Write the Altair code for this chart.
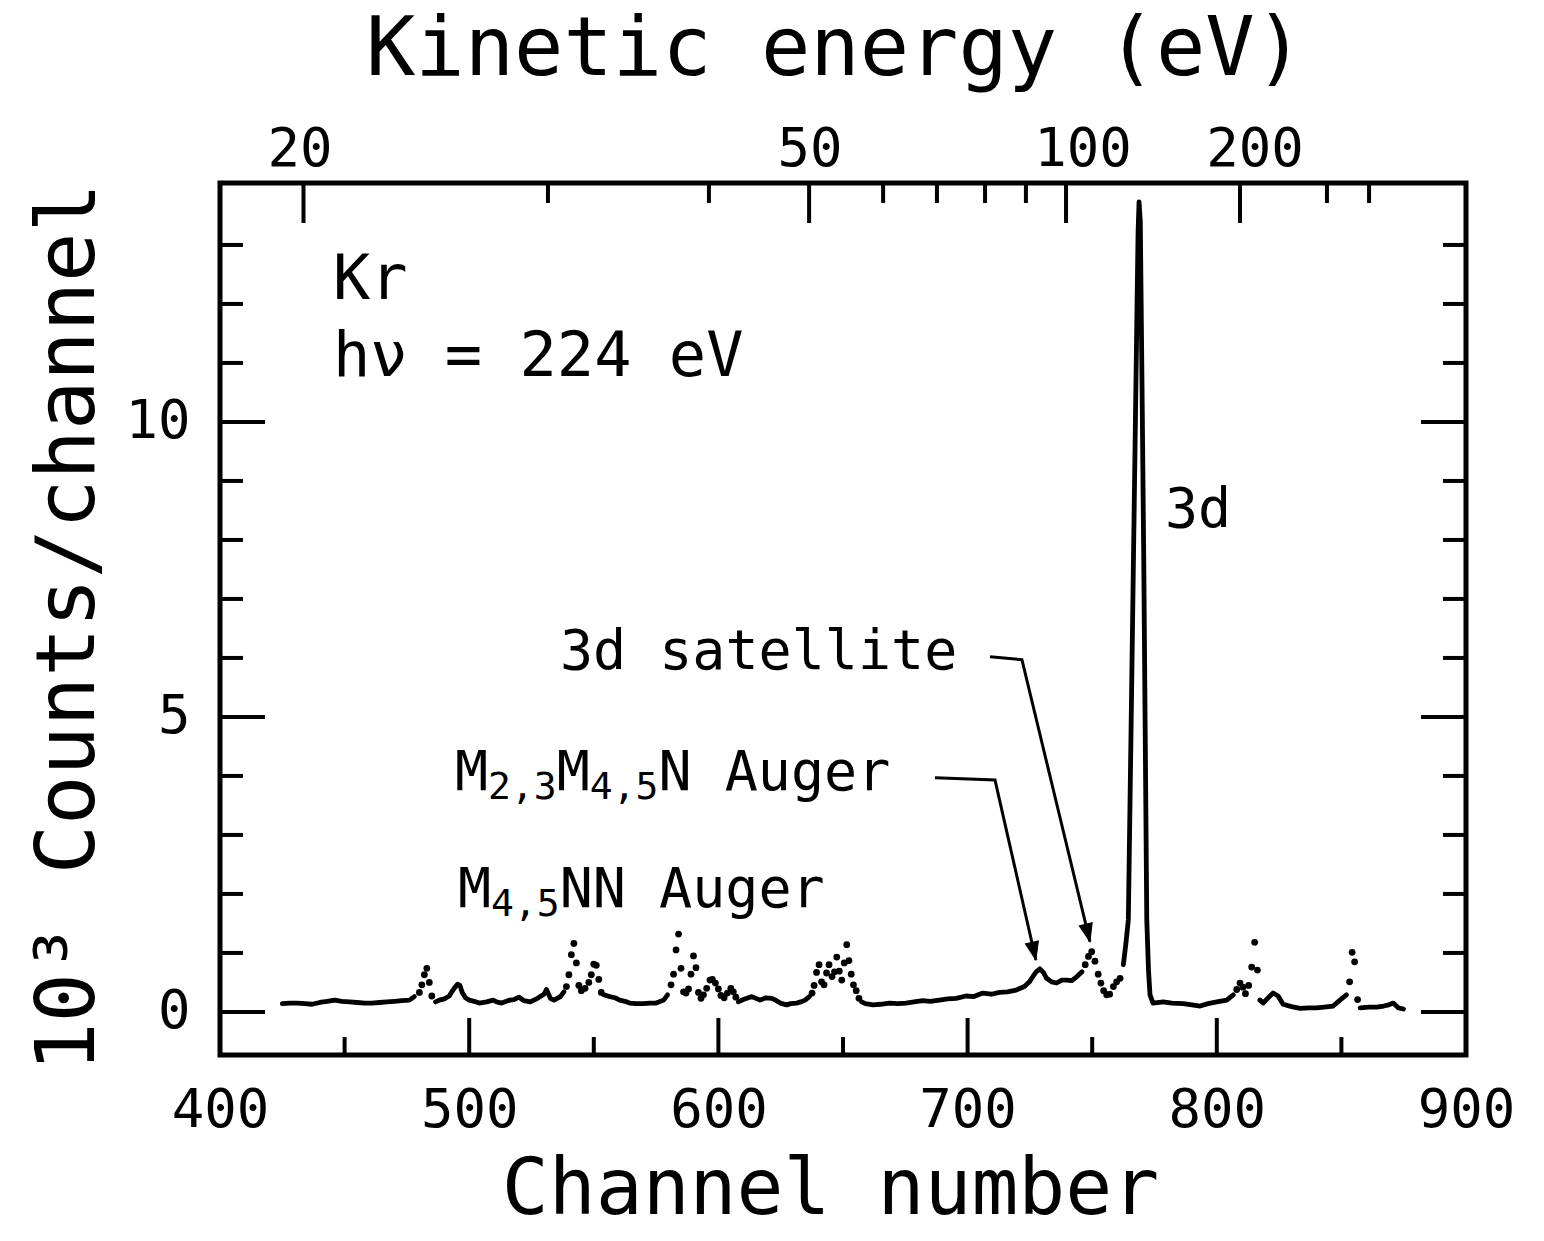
import math
import altair as alt
import pandas as pd

# ---------------- data ----------------
# continuous (solid) parts of the spectrum: channel, 10^3 counts/channel
trace_channel = [
    425, 428, 431, 434, 437, 440, 443, 446, 449, 452, 455, 458, 461, 464, 467, 470, 473, 476, 478,
    486.5, 488, 490, 492, 493, 494, 495.3, 496.3, 497.2, 498.5, 500, 502, 504, 507, 509.6, 511, 513,
    516.3, 518, 520, 522, 524.5, 527, 528.5, 530, 531, 532.6, 534, 536.6, 538,
    554, 556.4, 558.5, 560.4, 562.5, 564.4, 567, 569.8, 572.5, 575, 578, 579.6,
    608, 610, 613.4, 616.7, 619, 621.4, 623, 624.8, 627.4, 629, 631.4, 633, 634.8, 636.5,
    657.5, 659, 662, 665, 668.6, 672, 675.3, 678.5, 682, 685, 688.7, 692, 695.4, 699.4, 702.5, 706.1,
    709.5, 712.8, 716, 719.5, 722.8, 724.8, 726.2, 727.5, 729, 730.4, 731.7, 733.7, 735.7, 737.8,
    739.8, 741.8, 743.9, 745.9,
    762.5, 763.5, 764.5, 765.5, 766.5, 767.5, 768.4, 768.8, 769.3, 770.0, 770.7, 771.3, 771.9, 772.6,
    773.2, 774.4, 778.5, 782, 786.6, 790, 793.3, 796.5, 800, 804, 806.6,
    817.3, 818.6, 820.6, 822.6, 824.6, 826.6, 830, 833.4, 837, 840, 843, 846.7, 849.4, 852,
    857.5, 861, 864.2, 867, 869, 870.8, 872.8, 874.9,
]
trace_counts = [
    0.14, 0.15, 0.15, 0.14, 0.13, 0.16, 0.18, 0.20, 0.18, 0.17, 0.16, 0.15, 0.15, 0.16, 0.17, 0.18, 0.19, 0.20, 0.26,
    0.17, 0.20, 0.22, 0.27, 0.34, 0.40, 0.47, 0.45, 0.33, 0.24, 0.20, 0.18, 0.15, 0.17, 0.20, 0.17, 0.15,
    0.20, 0.21, 0.25, 0.19, 0.17, 0.22, 0.26, 0.30, 0.38, 0.23, 0.20, 0.26, 0.34,
    0.29, 0.26, 0.24, 0.20, 0.18, 0.15, 0.14, 0.14, 0.15, 0.15, 0.20, 0.29,
    0.17, 0.21, 0.26, 0.20, 0.24, 0.23, 0.20, 0.15, 0.12, 0.14, 0.15, 0.17, 0.20, 0.26,
    0.17, 0.14, 0.12, 0.13, 0.15, 0.14, 0.15, 0.17, 0.19, 0.18, 0.20, 0.22, 0.23, 0.27, 0.26, 0.32,
    0.30, 0.33, 0.34, 0.37, 0.43, 0.51, 0.60, 0.68, 0.73, 0.67, 0.57, 0.51, 0.49, 0.54,
    0.54, 0.53, 0.60, 0.68,
    0.80, 1.15, 1.56, 4.5, 7.5, 10.5, 13.2, 13.73, 13.4, 10.6, 7.6, 4.6, 1.56, 0.70,
    0.29, 0.15, 0.17, 0.15, 0.14, 0.12, 0.10, 0.14, 0.17, 0.20, 0.29,
    0.20, 0.15, 0.24, 0.32, 0.27, 0.13, 0.09, 0.06, 0.07, 0.07, 0.08, 0.10, 0.20, 0.29,
    0.07, 0.08, 0.08, 0.10, 0.12, 0.15, 0.07, 0.05,
]

# separated single-channel dots (steep parts of the Auger structure)
dot_channel = [
    480, 481, 482, 483, 484, 485,
    539, 540, 541, 542, 543, 544, 545, 546.5, 548, 549, 550, 551, 552, 553,
    581, 582, 583, 584, 585, 586, 587, 588, 589, 590, 591, 592, 593, 594, 595.3, 596.6, 597.6, 598.8,
    600, 601, 602.3, 603.6, 605, 606, 607,
    637.6, 638.4, 639.4, 640.4, 641.4, 642.4, 643.4, 644.4, 645.6, 646.6, 647.5, 648.5, 649.5, 650.5,
    651.5, 652.4, 653.3, 654.2, 655.3, 656.4,
    747.2, 748.5, 749.8, 751.1, 752.4, 753.5, 754.6, 755.8, 757, 758.5, 759.8, 761.2,
    808, 809.3, 810.5, 811.5, 812.8, 814, 815.2, 816.3,
    853.3, 854.3, 855.3, 856.5,
]
dot_counts = [
    0.33, 0.46, 0.63, 0.74, 0.50, 0.27,
    0.43, 0.63, 0.97, 1.16, 0.83, 0.45, 0.36, 0.40, 0.50, 0.63, 0.81, 0.79, 0.55, 0.33,
    0.46, 0.64, 1.05, 1.32, 0.74, 0.34, 0.32, 0.39, 0.64, 0.95, 0.75, 0.33, 0.23, 0.29, 0.40, 0.54, 0.55, 0.49,
    0.39, 0.28, 0.24, 0.32, 0.40, 0.34, 0.25,
    0.32, 0.45, 0.67, 0.80, 0.51, 0.46, 0.66, 0.80, 0.60, 0.68, 0.93, 0.69, 0.54, 0.83,
    1.14, 0.87, 0.64, 0.46, 0.36, 0.23,
    0.80, 0.94, 1.02, 0.86, 0.64, 0.49, 0.36, 0.29, 0.30, 0.43, 0.51, 0.57,
    0.38, 0.49, 0.42, 0.31, 0.45, 0.76, 1.18, 0.71,
    0.51, 1.01, 0.85, 0.21,
]

# axis ticks
x_major_ticks = [500, 600, 700, 800]
x_minor_ticks = [450, 550, 650, 750, 850]
x_labels = [400, 500, 600, 700, 800, 900]
y_major_ticks = [0, 5, 10]
y_minor_ticks = [1, 2, 3, 4, 6, 7, 8, 9, 11, 12, 13]

# top kinetic-energy axis: energy (eV) and the channel where its tick sits
energy_ticks_eV = [20, 30, 40, 50, 60, 70, 80, 90, 100, 200, 300, 400]
energy_tick_channel = [433.5, 531.6, 596.2, 636.4, 666.1, 687.7, 707.0, 723.4, 739.5, 809.3, 844.2, 861.1]
energy_labelled = [20, 50, 100, 200]
energy_label_channel = [432.1, 636.8, 746.3, 815.3]

# annotations: anchor (channel, counts) of each text, pieces marked as subscripts
header_texts = ["Kr", "h\u03bd = 224 eV"]
header_channel = [445.3, 445.3]
header_counts = [12.4, 11.1]
simple_texts = ["3d", "3d satellite"]
simple_channel = [779.2, 536.4]
simple_counts = [8.5, 6.1]
auger_pieces = [
    [("M", False), ("2,3", True), ("M", False), ("4,5", True), ("N Auger", False)],
    [("M", False), ("4,5", True), ("NN Auger", False)],
]
auger_channel = [494.3, 495.5]
auger_counts = [4.05, 2.07]

# leader lines with arrows
sat_leader_channel = [709.0, 721.8, 749.1]
sat_leader_counts = [6.02, 5.97, 1.19]
aug_leader_channel = [686.9, 711.0, 727.4]
aug_leader_counts = [3.97, 3.93, 0.88]

# ---------------- chart ----------------
W, H = 1246, 872
X_DOM = [400, 900]
Y_DOM = [-0.73, 14.05]
FONT = "DejaVu Sans Mono"
MAIN_SIZE, SUB_SIZE = 55, 38
ADV = 0.602  # monospace advance per em

px_per_ch = W / (X_DOM[1] - X_DOM[0])
px_per_unit = H / (Y_DOM[1] - Y_DOM[0])

xs = alt.Scale(domain=X_DOM, nice=False, zero=False)
ys = alt.Scale(domain=Y_DOM, nice=False, zero=False)

x_axis = alt.Axis(
    values=x_labels, format="d", labelFont=FONT, labelFontSize=54, labelColor="black",
    labelPadding=55, labelBaseline="middle", labelFlush=False, labelOverlap=False,
    ticks=False, tickSize=0, domain=False, grid=False,
    title="Channel number", titleFont=FONT, titleFontSize=78, titleFontWeight="normal",
    titleColor="black", titleX=610, titleY=135, titleBaseline="middle", titleAlign="center",
)
y_axis = alt.Axis(
    values=y_major_ticks, format="d", labelFont=FONT, labelFontSize=54, labelColor="black",
    labelPadding=30, labelBaseline="middle", labelFlush=False, labelOverlap=False,
    ticks=False, tickSize=0, domain=False, grid=False,
    title="10\u00b3 Counts/channel", titleFont=FONT, titleFontSize=82, titleFontWeight="normal",
    titleColor="black", titleX=-152, titleY=444, titleAngle=270, titleBaseline="middle",
    titleAlign="center",
)


def X(field="channel"):
    return alt.X(f"{field}:Q", scale=xs, axis=x_axis)


def Y(field="counts"):
    return alt.Y(f"{field}:Q", scale=ys, axis=y_axis)


# segments of the solid trace
seg, s = [], 0
for i, c in enumerate(trace_channel):
    if i > 0 and c - trace_channel[i - 1] > 5:
        s += 1
    seg.append(s)
trace_df = pd.DataFrame({"channel": trace_channel, "counts": trace_counts,
                         "seg": seg, "ord": list(range(len(trace_channel)))})
dot_df = pd.DataFrame({"channel": dot_channel, "counts": dot_counts})

trace = alt.Chart(trace_df).mark_line(
    color="black", strokeWidth=4.8, strokeJoin="round", strokeCap="round"
).encode(x=X(), y=Y(), detail="seg:N", order="ord:Q")

dots = alt.Chart(dot_df).mark_circle(color="black", size=46, opacity=1).encode(x=X(), y=Y())


# manual inward ticks
def xticks(vals, length):
    return alt.Chart(pd.DataFrame({"channel": vals})).mark_rule(color="black", strokeWidth=4).encode(
        x=X(), y=alt.value(H), y2=alt.value(H - length),
    )


def yticks(vals, x0, x1):
    return alt.Chart(pd.DataFrame({"counts": vals})).mark_rule(color="black", strokeWidth=4).encode(
        y=Y(), x=alt.value(x0), x2=alt.value(x1),
    )


energy_df = pd.DataFrame({"channel": energy_tick_channel, "eV": energy_ticks_eV})
top_major = energy_df[energy_df["eV"].isin(energy_labelled)]
top_minor = energy_df[~energy_df["eV"].isin(energy_labelled)]


def topticks(df, length):
    return alt.Chart(df).mark_rule(color="black", strokeWidth=4).encode(
        x=X(), y=alt.value(0), y2=alt.value(length),
    )


top_labels = alt.Chart(pd.DataFrame({"channel": energy_label_channel, "eV": energy_labelled})).mark_text(
    font=FONT, fontSize=54, color="black", align="center", baseline="middle"
).encode(x=X(), y=alt.value(-33), text=alt.Text("eV:Q", format="d"))

top_title = alt.Chart(pd.DataFrame({"t": ["Kinetic energy (eV)"]})).mark_text(
    font=FONT, fontSize=82, color="black", align="center", baseline="middle"
).encode(x=alt.value(615), y=alt.value(-133), text="t:N")

simple_labels = alt.Chart(pd.DataFrame({"channel": simple_channel, "counts": simple_counts, "t": simple_texts})).mark_text(
    font=FONT, fontSize=MAIN_SIZE, color="black", align="left", baseline="middle"
).encode(x=X(), y=Y(), text="t:N")

headers = alt.Chart(pd.DataFrame({"channel": header_channel, "counts": header_counts, "t": header_texts})).mark_text(
    font=FONT, fontSize=62, color="black", align="left", baseline="middle"
).encode(x=X(), y=Y(), text="t:N")

# composite labels with subscripts
main_rows, sub_rows = [], []
for pieces, ch0, ct0 in zip(auger_pieces, auger_channel, auger_counts):
    off = 0.0
    for txt, is_sub in pieces:
        size = SUB_SIZE if is_sub else MAIN_SIZE
        row = {"channel": ch0 + off / px_per_ch,
               "counts": ct0 - (15 / px_per_unit if is_sub else 0.0),
               "t": txt}
        (sub_rows if is_sub else main_rows).append(row)
        off += len(txt) * ADV * size
main_df = pd.DataFrame(main_rows)
sub_df = pd.DataFrame(sub_rows)

auger_main = alt.Chart(main_df).mark_text(
    font=FONT, fontSize=MAIN_SIZE, color="black", align="left", baseline="middle"
).encode(x=X(), y=Y(), text="t:N")
auger_sub = alt.Chart(sub_df).mark_text(
    font=FONT, fontSize=SUB_SIZE, color="black", align="left", baseline="middle"
).encode(x=X(), y=Y(), text="t:N")


def arrow(chs, cts):
    df = pd.DataFrame({"channel": chs, "counts": cts, "ord": list(range(len(chs)))})
    line = alt.Chart(df).mark_line(color="black", strokeWidth=3).encode(x=X(), y=Y(), order="ord:Q")
    dx = (chs[-1] - chs[-2]) * px_per_ch
    dy = (cts[-2] - cts[-1]) * px_per_unit
    ang = math.degrees(math.atan2(-dx, dy)) % 360
    head = alt.Chart(df.tail(1)).mark_point(
        shape="M0,0L-0.7,-1.9L0.7,-1.9Z", filled=True, fill="black", stroke="black",
        strokeWidth=1, opacity=1, size=360, angle=ang,
    ).encode(x=X(), y=Y())
    return line + head


chart = alt.layer(
    trace, dots,
    xticks(x_major_ticks, 37), xticks(x_minor_ticks, 18),
    yticks(y_major_ticks, 0, 45), yticks(y_minor_ticks, 0, 23),
    yticks(y_major_ticks, W, W - 45), yticks(y_minor_ticks, W, W - 23),
    topticks(top_major, 40), topticks(top_minor, 20),
    top_labels, top_title, simple_labels, headers, auger_main, auger_sub,
    arrow(sat_leader_channel, sat_leader_counts),
    arrow(aug_leader_channel, aug_leader_counts),
).properties(
    width=W, height=H,
    padding={"left": 220, "top": 183, "right": 78, "bottom": 186},
    autosize=alt.AutoSizeParams(type="none"),
    background="white",
).configure_view(
    stroke="black", strokeWidth=5,
)

chart.save("out.html", embed_options={"renderer": "svg", "actions": False})
